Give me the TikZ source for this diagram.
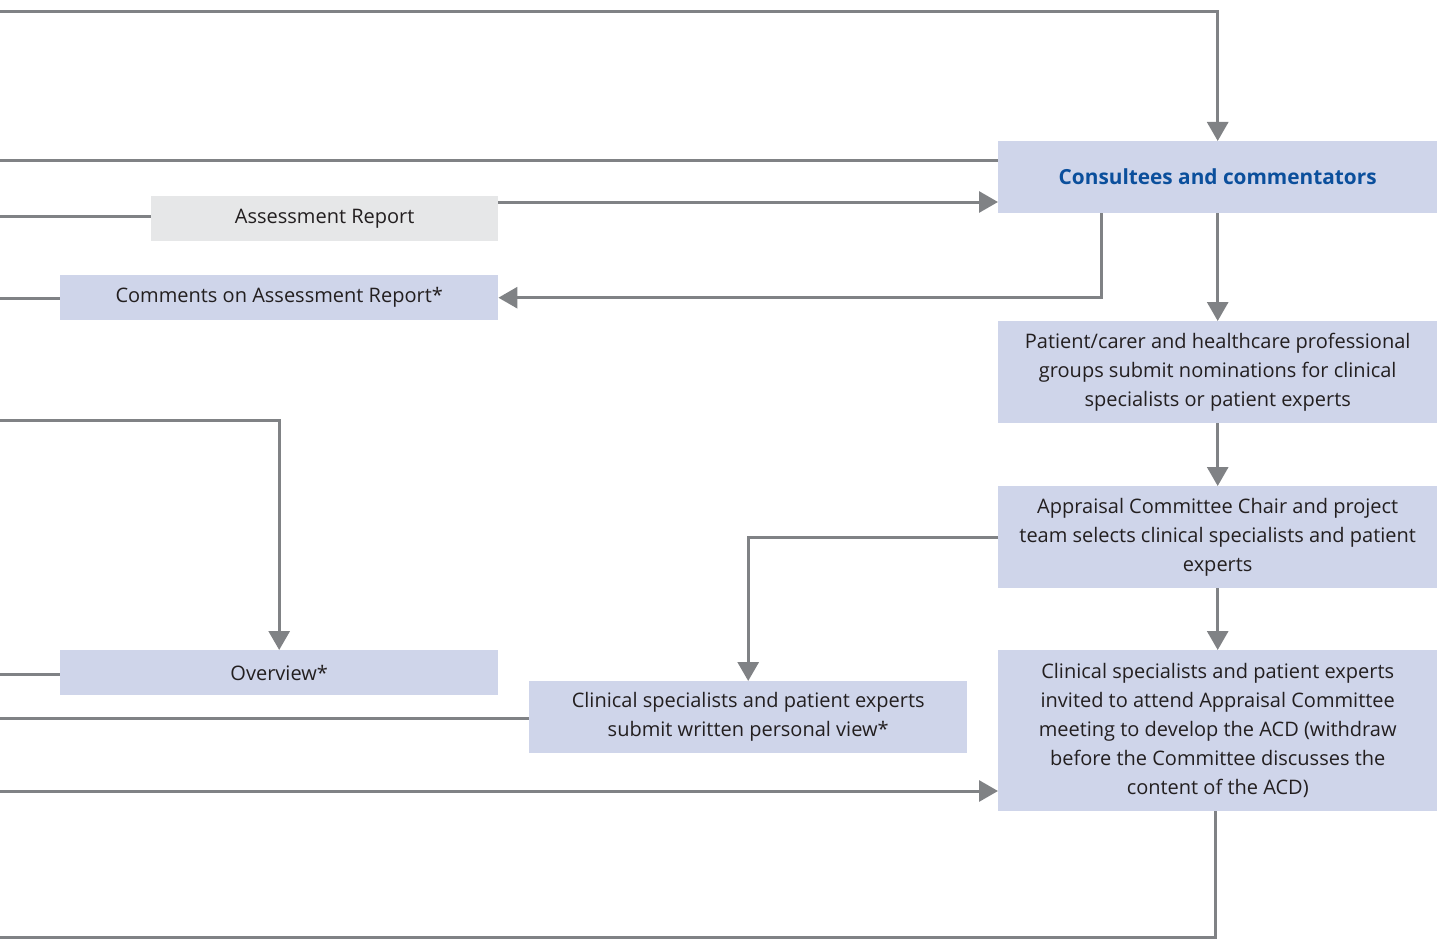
\documentclass[tikz,border=0pt]{standalone}
\usepackage{fontspec}
\setmainfont{Open Sans}
\usetikzlibrary{arrows.meta}
\definecolor{boxblue}{HTML}{CFD5EA}
\definecolor{boxgrey}{HTML}{E6E7E8}
\definecolor{lngrey}{HTML}{808285}
\definecolor{txt}{HTML}{231F20}
\definecolor{headblue}{HTML}{0B4F9C}
\begin{document}
\begin{tikzpicture}[x=1pt,y=-1pt,
  box/.style={fill=boxblue, draw=none, inner sep=0pt, align=center, text=txt,
    font=\fontsize{20}{29}\selectfont, anchor=north west, minimum width=439pt},
  greybox/.style={box, fill=boxgrey},
  ln/.style={draw=lngrey, line width=3pt},
  arr/.style={ln, -{Triangle[width=21pt,length=19pt]}}]
\useasboundingbox (0,0) rectangle (1441,939);
% nodes
\node[box, minimum height=72pt, font=\fontsize{20.8}{29}\selectfont\bfseries, text=headblue] (cons) at (998,141) {Consultees and commentators};
\node[greybox, minimum width=347pt, minimum height=45pt] (ar) at (151,196) {Assessment Report};
\node[box, minimum width=438pt, minimum height=45pt] (com) at (60,275) {Comments on Assessment Report*};
\node[box, minimum height=102pt] (pat) at (998,321) {Patient/carer and healthcare professional\\groups submit nominations for clinical\\specialists or patient experts};
\node[box, minimum height=102pt] (app) at (998,486) {Appraisal Committee Chair and project\\team selects clinical specialists and patient\\experts};
\node[box, minimum height=161pt] (inv) at (998,650) {Clinical specialists and patient experts\\invited to attend Appraisal Committee\\meeting to develop the ACD (withdraw\\before the Committee discusses the\\content of the ACD)};
\node[box, minimum width=438pt, minimum height=45pt] (ov) at (60,650) {Overview*};
\node[box, minimum width=438pt, minimum height=72pt] (sub) at (529,681) {Clinical specialists and patient experts\\submit written personal view*};
% free ends
\coordinate (e1) at (0,12);
\coordinate (e2) at (0,161);
\coordinate (e3) at (0,216);
\coordinate (e4) at (0,298);
\coordinate (e5) at (0,420);
\coordinate (e6) at (0,674);
\coordinate (e7) at (0,718);
\coordinate (e8) at (0,791);
\coordinate (e9) at (0,937);
\coordinate (k1) at (1101,213);
\coordinate (k2) at (1215,811);
\coordinate (k3) at (498,202);
% connectors
\draw[arr] (e1) -| (cons.north);
\draw[ln] (e2) -- (e2 -| cons.west);
\draw[ln] (e3) -- (e3 -| ar.west);
\draw[arr] (k3) -- (k3 -| cons.west);
\draw[ln] (e4) -- (e4 -| com.west);
\draw[arr] (k1) |- (com.east);
\draw[arr] (cons.south) -- (pat.north);
\draw[arr] (pat.south) -- (app.north);
\draw[arr] (app.south) -- (inv.north);
\draw[arr] (app.west) -| (sub.north);
\draw[arr] (e5) -| (ov.north);
\draw[ln] (e6) -- (e6 -| ov.west);
\draw[ln] (e7) -- (e7 -| sub.west);
\draw[arr] (e8) -- (e8 -| inv.west);
\draw[ln] (k2) |- (e9);
\end{tikzpicture}
\end{document}
